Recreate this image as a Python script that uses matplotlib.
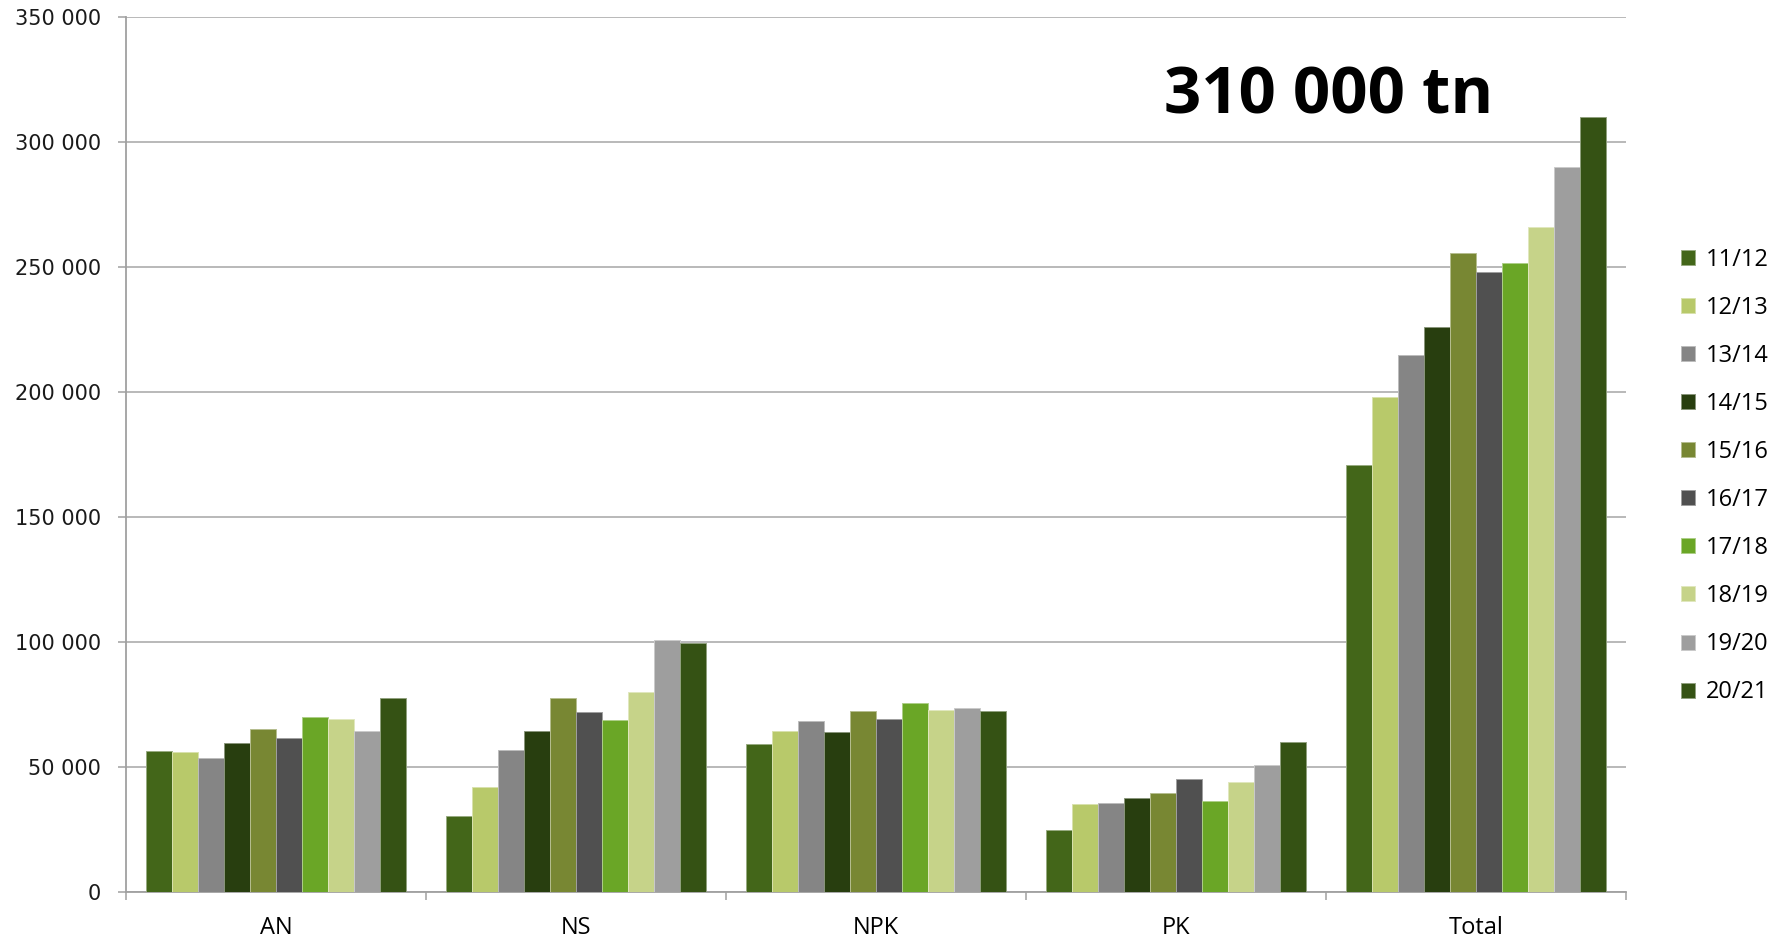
import matplotlib
matplotlib.use("Agg")
import matplotlib.pyplot as plt
import numpy as np
from matplotlib.colors import to_rgb

categories = ["AN", "NS", "NPK", "PK", "Total"]
seasons = ["11/12", "12/13", "13/14", "14/15", "15/16", "16/17", "17/18", "18/19", "19/20", "20/21"]
colors = ["#436619", "#B8C96A", "#858585", "#283E0F", "#788733",
          "#505050", "#6AA626", "#C6D389", "#9E9E9E", "#355214"]

an = [56400, 56100, 53600, 59500, 65100, 61600, 70100, 69100, 64300, 77500]
ns = [30300, 41900, 56700, 64400, 77700, 72000, 68900, 79900, 100700, 99700]
npk = [59300, 64400, 68600, 64200, 72600, 69300, 75800, 72900, 73600, 72600]
pk = [24700, 35100, 35600, 37700, 39700, 45100, 36400, 43900, 51000, 60000]
total = [170800, 197900, 214700, 226100, 255500, 248100, 251600, 265900, 289900, 310000]

values = np.array([an, ns, npk, pk, total])  # shape (cat, season)
title_text = "310 000 tn"
yticks = [0, 50000, 100000, 150000, 200000, 250000, 300000, 350000]

fig = plt.figure(figsize=(17.8, 9.4), dpi=100)
ax = fig.add_axes([126/1780, 48/940, 1500/1780, 875/940])

n = len(seasons)
bw = 1.0 / (n + 1.5)
x = np.arange(len(categories))
for i, s in enumerate(seasons):
    c = np.array(to_rgb(colors[i]))
    ec = tuple(c * 0.55 + 0.45)
    offs = (i - (n - 1) / 2) * bw
    ax.bar(x + offs, values[:, i], width=bw, color=colors[i], edgecolor=ec,
           linewidth=0.7, label=s, zorder=3)

ax.set_xlim(-0.5, len(categories) - 0.5)
ax.set_ylim(0, 350000)
ax.set_yticks(yticks)
ax.set_yticklabels([f"{v:,}".replace(",", " ") for v in yticks],
                   fontsize=15, family="DejaVu Sans", color="#1a1a1a")
ax.yaxis.grid(True, color="#A6A6A6", linewidth=1.1, zorder=0)
ax.set_axisbelow(True)

ax.set_xticks(x)
ax.set_xticklabels(categories, fontsize=17, family="Open Sans")
ax.set_xticks(np.arange(-0.5, len(categories), 1.0), minor=True)
ax.tick_params(axis="x", which="major", length=0, pad=17.5)
ax.tick_params(axis="x", which="minor", length=6, color="#A0A0A0", width=1.1)
ax.tick_params(axis="y", length=6, color="#A0A0A0", width=1.1, pad=12)

for sp in ["top", "right"]:
    ax.spines[sp].set_visible(False)
for sp in ["left", "bottom"]:
    ax.spines[sp].set_color("#A0A0A0")
    ax.spines[sp].set_linewidth(1.3)

fig.text(1329/1780, (940-97)/940, title_text, fontsize=47, fontweight="bold",
         family="Open Sans", ha="center", va="center")

fig.legend(loc="center left", bbox_to_anchor=(1681/1780, 0.4935), frameon=False,
           prop={"family": "Open Sans", "size": 17},
           handlelength=0.6, handleheight=0.6, handletextpad=0.45,
           labelspacing=1.02, borderpad=0, borderaxespad=0)

fig.savefig("out.png", dpi=100)
